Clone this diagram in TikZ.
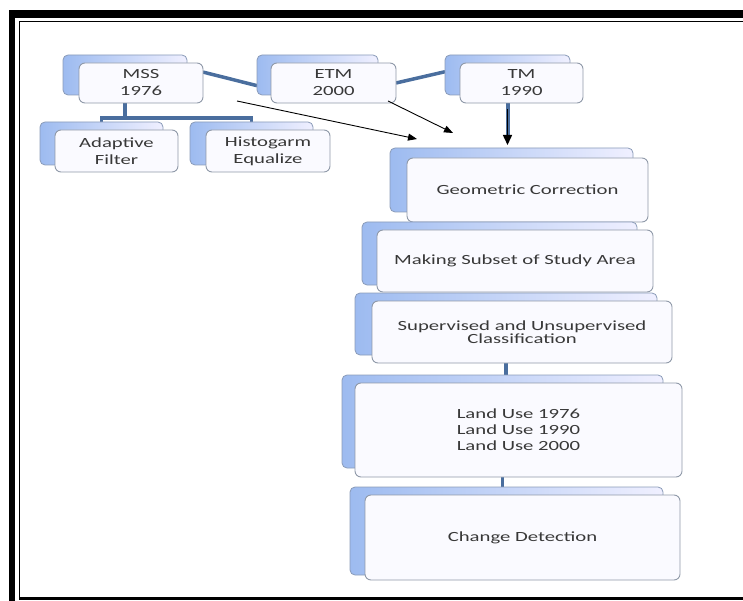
\documentclass[tikz,border=0pt]{standalone}
\usepackage{fontspec}
\setmainfont{Carlito}[FakeStretch=1.48]
\usetikzlibrary{calc,arrows.meta}
\pgfdeclarelayer{bg}
\pgfsetlayers{bg,main}
\definecolor{boxblue}{HTML}{9DBBF0}
\definecolor{backdraw}{HTML}{8A9BB8}
\definecolor{frontdraw}{HTML}{8F99A8}
\definecolor{linkblue}{HTML}{4A6E9E}
\definecolor{txt}{HTML}{383838}
\begin{document}
\begin{tikzpicture}[x=1pt,y=-1pt,
 backbox/.style={draw=backdraw, line width=0.8pt, rounded corners=5pt, left color=boxblue, right color=white!94!blue, anchor=north west, inner sep=0pt, outer sep=0pt},
 frontbox/.style={draw=frontdraw, line width=0.9pt, rounded corners=6pt, fill=white!98!blue, anchor=north west, inner sep=0pt, outer sep=0pt, align=center, text=txt, font=\fontsize{14}{17}\selectfont},
 link/.style={draw=linkblue, line width=3.5pt},
 thinarrow/.style={draw=black, line width=0.9pt, -{Triangle[length=9pt,width=7pt]}},
]
\useasboundingbox (0,0) rectangle (743,601);
% frame
\fill[black] (9,10) rectangle (743,18.5);
\fill[black] (9,10) rectangle (15,601);
\draw[black, line width=1.3pt] (19.5,598) -- (19.5,21.5) -- (743,21.5);
\fill[black] (19,596.5) rectangle (743,599.5);

% top row
\node[backbox, minimum width=124pt, minimum height=40pt] (mssb) at (63,55) {};
\node[frontbox, minimum width=124pt, minimum height=40pt] (mss) at (79,63) {MSS\\1976};
\node[backbox, minimum width=121pt, minimum height=40pt] (etmb) at (257,55) {};
\node[frontbox, minimum width=125pt, minimum height=40pt] (etm) at (271,63) {ETM\\2000};
\node[backbox, minimum width=125pt, minimum height=40pt] (tmb) at (445,55) {};
\node[frontbox, minimum width=123pt, minimum height=40pt] (tm) at (460,63) {TM\\1990};

% second row
\node[backbox, minimum width=123pt, minimum height=43pt] (adab) at (40,122) {};
\node[frontbox, minimum width=123pt, minimum height=42pt] (ada) at (55,130) {Adaptive\\Filter};
\node[backbox, minimum width=123pt, minimum height=43pt] (hisb) at (190,122) {};
\node[frontbox, minimum width=124pt, minimum height=42pt] (his) at (206,130) {Histogarm\\Equalize};

% column
\node[backbox, minimum width=243pt, minimum height=64pt] (geob) at (390,148) {};
\node[frontbox, minimum width=241pt, minimum height=64pt] (geo) at (407,158) {Geometric Correction};
\node[backbox, minimum width=275pt, minimum height=63pt] (makb) at (362,222) {};
\node[frontbox, minimum width=276pt, minimum height=62pt] (mak) at (377,230) {Making Subset of Study Area};
\node[backbox, minimum width=302pt, minimum height=62pt] (supb) at (355,293) {};
\node[frontbox, minimum width=300pt, minimum height=62pt, font=\fontsize{14}{13}\selectfont] (sup) at (372,301) {Supervised and Unsupervised\\Classification};
\node[backbox, minimum width=321pt, minimum height=93pt] (landb) at (342,375) {};
\node[frontbox, minimum width=327pt, minimum height=94pt, font=\fontsize{14}{16}\selectfont] (land) at (355,383) {Land Use 1976\\Land Use 1990\\Land Use 2000};
\node[backbox, minimum width=313pt, minimum height=88pt] (chgb) at (350,487) {};
\node[frontbox, minimum width=315pt, minimum height=85pt] (chg) at (365,495) {Change Detection};

% connectors
\begin{pgfonlayer}{bg}
\draw[link] (mss.10) -- (etmb.190);
\draw[link] (etm.east) -- (tmb.177);
\draw[link] (mssb.south) -- ($(mssb.south)+(0,23)$) -| (adab.north);
\draw[link] ($(mssb.south)+(0,23)$) -| (hisb.north);
\draw[link, line width=4pt] (tmb.south) -- ($(tmb.south |- geob.north)+(0,-8)$);
\draw[link] (supb.south) -- (supb.south |- landb.north);
\draw[link] (landb.south) -- (landb.south |- chgb.north);
\end{pgfonlayer}
\draw[black, line width=1.5pt, -{Triangle[length=10pt,width=9pt]}] ($(tmb.south)+(0,14)$) -- ($(tmb.south |- geob.north)+(0,-3)$);
\coordinate (a1s) at (237,101);
\coordinate (a1e) at (417,139);
\coordinate (a2s) at (388,101);
\coordinate (a2e) at (453,133);
\draw[thinarrow] (a1s) -- (a1e);
\draw[thinarrow] (a2s) -- (a2e);
\end{tikzpicture}
\end{document}
